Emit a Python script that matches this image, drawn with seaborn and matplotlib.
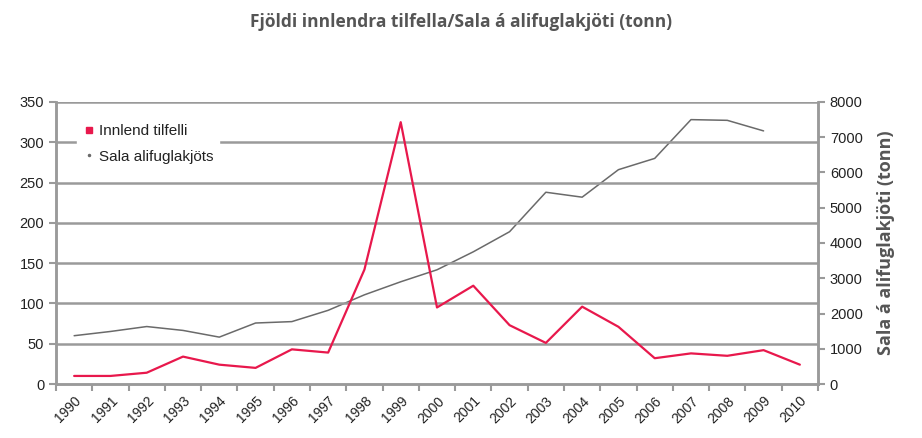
import matplotlib
matplotlib.use("Agg")
import matplotlib.pyplot as plt
import seaborn as sns
import pandas as pd
import numpy as np
from matplotlib.ticker import FixedLocator
from matplotlib.lines import Line2D

years = list(range(1990, 2011))
innlend = [10, 10, 14, 34, 24, 20, 43, 39, 142, 325, 95, 122, 73, 51, 96, 71, 32, 38, 35, 42, 24]
sala_years = list(range(1990, 2010))
sala = [1370, 1490, 1630, 1520, 1330, 1730, 1770, 2090, 2530, 2900, 3240, 3750, 4320, 5440, 5300, 6080, 6400, 7500, 7480, 7180]

title = "Fjöldi innlendra tilfella/Sala á alifuglakjöti (tonn)"
right_label = "Sala á alifuglakjöti (tonn)"
legend_labels = ["Innlend tilfelli", "Sala alifuglakjöts"]

sns.set_theme(style="white")
plt.rcParams['font.family'] = ['Liberation Sans Narrow', 'Liberation Sans', 'DejaVu Sans']

df1 = pd.DataFrame({"year": years, "value": innlend})
df2 = pd.DataFrame({"year": sala_years, "value": sala})

fig = plt.figure(figsize=(9.22, 4.38), dpi=100)
ax = fig.add_axes([56/922, 1-384/438, (818-56)/922, (384-102)/438])
ax2 = ax.twinx()

grid_c = "#9a9a9a"
red = "#e8184c"
gray = "#6a6a6a"

ax.set_ylim(0, 350)
ax2.set_ylim(0, 8000)
ax.set_xlim(1989.5, 2010.5)

for v in range(50, 351, 50):
    ax.axhline(v, color=grid_c, lw=1.8, zorder=0)

sns.lineplot(data=df1, x="year", y="value", ax=ax, color=red, lw=1.6, zorder=3)
sns.lineplot(data=df2, x="year", y="value", ax=ax2, color=gray, lw=1.1, zorder=3)

ax.set_zorder(ax2.get_zorder() + 1)
ax.patch.set_visible(False)

ax.set_xlabel("")
ax.set_ylabel("")
ax2.set_xlabel("")
ax2.set_ylabel(right_label, fontsize=13, fontweight="bold", color="#555555",
               family=["Open Sans", "DejaVu Sans"], labelpad=10)

ax.set_yticks(range(0, 351, 50))
ax2.set_yticks(range(0, 8001, 1000))
ax.set_xticks(years)
ax.set_xticklabels([str(y) for y in years], rotation=45, ha="right", rotation_mode="anchor")
ax.xaxis.set_minor_locator(FixedLocator([y + 0.5 for y in range(1989, 2011)]))
ax.tick_params(axis="x", which="major", length=0, pad=7, labelsize=10, colors="#222222")
ax.tick_params(axis="x", which="minor", length=5, width=1.5, color=grid_c, bottom=True)
ax.tick_params(axis="y", length=5, width=1.5, color=grid_c, labelsize=10.5, labelcolor="#222222", left=True)
ax2.tick_params(axis="y", length=5, width=1.5, color=grid_c, labelsize=10.5, labelcolor="#222222", right=True)

for a in (ax, ax2):
    for s in a.spines.values():
        s.set_color(grid_c)
        s.set_linewidth(1.8)
    a.spines["top"].set_visible(False)

handles = [Line2D([], [], color=red, marker="s", ms=4, lw=0),
           Line2D([], [], color=gray, marker=".", ms=3, lw=0)]
leg = ax.legend(handles, legend_labels, loc="center left",
                bbox_to_anchor=(0.028, (384-144)/282),
                frameon=True, fontsize=11, handletextpad=0.3, handlelength=0.8,
                borderpad=0.35, labelspacing=0.75, borderaxespad=0)
leg.get_frame().set_facecolor("white")
leg.get_frame().set_edgecolor("white")
leg.get_frame().set_alpha(1)
leg.set_zorder(10)
for t in leg.get_texts():
    t.set_color("#222222")

fig.text(0.5, 1-22/438, title, ha="center", va="center", fontsize=12.5, fontweight="bold",
         color="#555555", family=["Open Sans", "DejaVu Sans"])

fig.savefig("out.png", dpi=100)
